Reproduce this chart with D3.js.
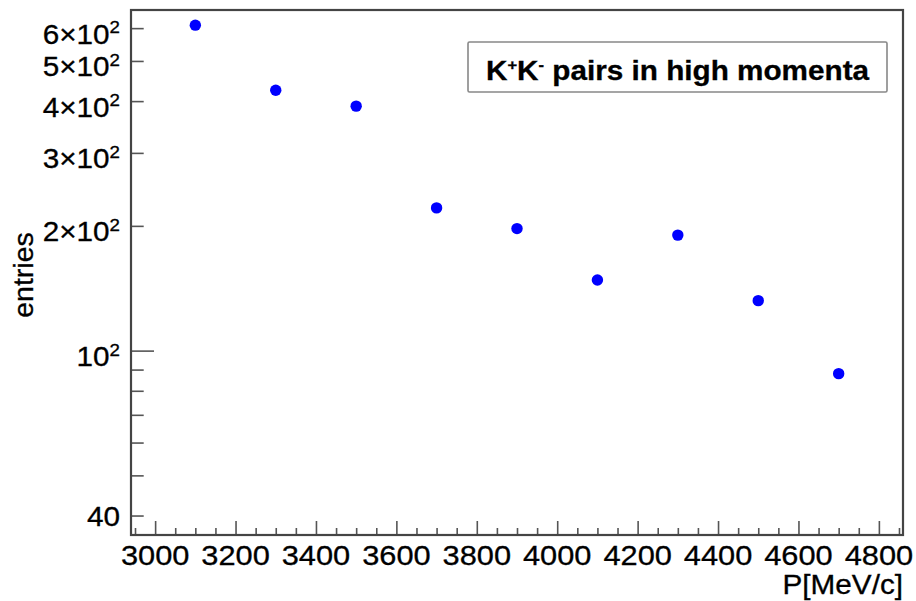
<!DOCTYPE html>
<html>
<head>
<meta charset="utf-8">
<script src="https://cdn.jsdelivr.net/npm/d3@7"></script>
<style>
  body { margin: 0; background: #fff; }
  svg { display: block; }
  text { font-family: "Liberation Sans", Arial, Helvetica, sans-serif; fill: #000; stroke: #000; stroke-width: 0.3px; }
</style>
</head>
<body>
<svg id="chart" width="916" height="601"></svg>
<script>
// data
const momenta = [3100, 3300, 3500, 3700, 3900, 4100, 4300, 4500, 4700];
const entries = [610, 425, 389, 221, 197, 148, 190, 132, 88];

// axis ticks
const xMajorTicks = [3000, 3200, 3400, 3600, 3800, 4000, 4200, 4400, 4600, 4800];
const xMinorTicks = d3.range(2950, 4860, 50).filter(v => xMajorTicks.indexOf(v) < 0);
const yTicks = [40, 50, 60, 70, 80, 90, 100, 200, 300, 400, 500, 600];
const yLabelValues = [40, 100, 200, 300, 400, 500, 600];
const yLabelMain = ['40', '10', '2\u00d710', '3\u00d710', '4\u00d710', '5\u00d710', '6\u00d710'];
const yLabelSup = ['', '2', '2', '2', '2', '2', '2'];

const X_DOMAIN = [2940, 4860];
const Y_DOMAIN = [35.9, 663.6];

// frame box
const frame = { left: 131, right: 903, top: 10, bottom: 535 };
// the original text is a bit wider than Liberation Sans
const STRETCH = 1.1;

const svg = d3.select('#chart');

var x = d3.scaleLinear().domain(X_DOMAIN).range([frame.left, frame.right]);
var y = d3.scaleLog().domain(Y_DOMAIN).range([frame.bottom, frame.top]);

const place = (px, py) => 'translate(' + px + ',' + py + ') scale(' + STRETCH + ',1)';

// x axis: major + minor ticks pointing up into the frame
var xMajor = d3.axisBottom(x).tickValues(xMajorTicks).tickSize(-14).tickFormat('');
var xMinor = d3.axisBottom(x).tickValues(xMinorTicks).tickSize(-7).tickFormat('');

svg.append('g').attr('class', 'x axis')
    .attr('transform', 'translate(0,' + frame.bottom + ')')
    .call(xMajor);
svg.append('g').attr('class', 'x axis')
    .attr('transform', 'translate(0,' + frame.bottom + ')')
    .call(xMinor);

// y axis ticks, pointing right; the decade tick is longer
var yAxis = d3.axisLeft(y).tickValues(yTicks).tickSize(-12.7).tickFormat('');
svg.append('g').attr('class', 'y axis')
    .attr('transform', 'translate(' + frame.left + ',0)')
    .call(yAxis)
    .selectAll('.tick line')
    .attr('x2', d => d === 100 ? 23 : 12.7);

svg.selectAll('.axis path').remove();
svg.selectAll('.axis .tick line')
    .attr('stroke', '#555')
    .attr('stroke-width', 1.6);

// frame
svg.append('rect')
    .attr('x', frame.left)
    .attr('y', frame.top)
    .attr('width', frame.right - frame.left)
    .attr('height', frame.bottom - frame.top)
    .attr('fill', 'none')
    .attr('stroke', '#444')
    .attr('stroke-width', 2.2);

// x tick labels
svg.append('g').selectAll('text')
    .data(xMajorTicks)
    .enter()
    .append('text')
    .attr('transform', d => place(x(d), 565))
    .attr('text-anchor', 'middle')
    .style('font-size', '28px')
    .text(d => d);

// y tick labels with superscripts
var yLab = svg.append('g').selectAll('text')
    .data(yLabelValues)
    .enter()
    .append('text')
    .attr('transform', (d, i) => place(120, y(d) + (yLabelSup[i] ? 15.5 : 10.5)))
    .attr('text-anchor', 'end')
    .style('font-size', '27px');

yLab.append('tspan').text((d, i) => yLabelMain[i]);
yLab.append('tspan')
    .attr('dy', -10.5)
    .style('font-size', '17px')
    .text((d, i) => yLabelSup[i]);

// axis titles
svg.append('text')
    .attr('transform', place(frame.right, 594))
    .attr('text-anchor', 'end')
    .style('font-size', '27px')
    .text('P[MeV/c]');

svg.append('text')
    .attr('transform', 'translate(' + 33 + ',' + 275 + ') rotate(-90)')
    .attr('text-anchor', 'middle')
    .style('font-size', '28.5px')
    .text('entries');

// points
svg.append('g').selectAll('circle')
    .data(momenta)
    .enter()
    .append('circle')
    .attr('cx', d => x(d))
    .attr('cy', (d, i) => y(entries[i]))
    .attr('r', 5.7)
    .attr('fill', '#0000ff');

// legend box
svg.append('rect')
    .attr('x', 468)
    .attr('y', 42)
    .attr('width', 419)
    .attr('height', 50)
    .attr('rx', 1.5)
    .attr('fill', '#fff')
    .attr('stroke', '#888')
    .attr('stroke-width', 1.6);

var legendText = svg.append('text')
    .attr('transform', place(486, 79.5))
    .style('font-size', '27px')
    .style('font-weight', 'bold');
legendText.append('tspan').text('K');
legendText.append('tspan').attr('dy', -10).style('font-size', '15px').text('+');
legendText.append('tspan').attr('dy', 10).text('K');
legendText.append('tspan').attr('dy', -10).style('font-size', '15px').text('-');
legendText.append('tspan').attr('dy', 10).text(' pairs in high momenta');
</script>
</body>
</html>
